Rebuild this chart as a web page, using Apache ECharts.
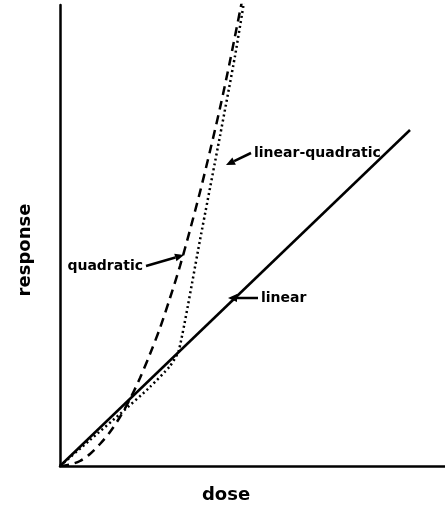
<!DOCTYPE html>
<html>
<head>
<meta charset="utf-8">
<script src="https://cdn.jsdelivr.net/npm/echarts@6/dist/echarts.min.js"></script>
<style>
  html, body { margin: 0; padding: 0; background: #fff; }
  #chart { width: 445px; height: 507px; }
</style>
</head>
<body>
<div id="chart"></div>
<script>
// Dose-response models (arbitrary units)
const linearDose = [0, 350];
const linearResp = [0, 336];

const quadDose = [0, 10, 20, 30, 40, 50, 60, 70, 80, 90, 100, 110, 120, 130, 140, 150, 160, 170, 180, 185];
const quadResp = [0, 1.5, 5, 12, 22, 34, 49, 67, 88, 112, 138, 168, 200, 236, 274, 315, 358, 405, 455, 480];

const lqDose = [0, 30, 60, 90, 110, 119, 140, 160, 175, 185];
const lqResp = [0, 26, 52, 79, 100, 116, 226, 330, 410, 470];

const xLabel = 'dose';
const yLabel = 'response';

// Annotation anchors: [dose, response] of each arrow tip
const notes = [
  { text: 'quadratic', tip: [124, 211], dx: -38, dy: 11, side: 'left' },
  { text: 'linear', tip: [168, 168], dx: 30, dy: 0, side: 'right' },
  { text: 'linear-quadratic', tip: [166, 301], dx: 25, dy: -12, side: 'right' }
];

const zip = (xs, ys) => xs.map((x, i) => [x, ys[i]]);

const chart = echarts.init(document.getElementById('chart'));
const FONT = 'DejaVu Sans';

chart.setOption({
  animation: false,
  backgroundColor: '#fff',
  grid: { left: 60, right: 0, top: 5, bottom: 41 },
  xAxis: {
    type: 'value', min: 0, max: 385,
    axisLine: { show: true, lineStyle: { color: '#000', width: 2.5 } },
    axisTick: { show: false }, axisLabel: { show: false }, splitLine: { show: false }
  },
  yAxis: {
    type: 'value', min: 0, max: 461,
    axisLine: { show: true, lineStyle: { color: '#000', width: 2.5 } },
    axisTick: { show: false }, axisLabel: { show: false }, splitLine: { show: false }
  },
  series: [
    {
      name: 'linear', type: 'line', data: zip(linearDose, linearResp),
      symbol: 'none', lineStyle: { color: '#000', width: 2.5 }, z: 3
    },
    {
      name: 'quadratic', type: 'line', data: zip(quadDose, quadResp), smooth: 0.3,
      symbol: 'none', lineStyle: { color: '#000', width: 2.5, type: [9, 6] }, z: 2
    },
    {
      name: 'linear-quadratic', type: 'line', data: zip(lqDose, lqResp), smooth: 0.2,
      symbol: 'none', lineStyle: { color: '#000', width: 2.5, type: [2, 3] }, z: 2
    }
  ]
});

// Arrow annotations placed relative to data anchors
function arrow(tip, tail) {
  const ang = Math.atan2(tip[1] - tail[1], tip[0] - tail[0]);
  const L = 9, W = 4;
  const bx = tip[0] - L * Math.cos(ang), by = tip[1] - L * Math.sin(ang);
  const nx = -Math.sin(ang) * W, ny = Math.cos(ang) * W;
  return [
    { type: 'line', shape: { x1: tail[0], y1: tail[1], x2: bx, y2: by }, style: { stroke: '#000', lineWidth: 2.5 } },
    { type: 'polygon', shape: { points: [tip, [bx + nx, by + ny], [bx - nx, by - ny]] }, style: { fill: '#000' } }
  ];
}
const elements = [];
notes.forEach(n => {
  const tip = chart.convertToPixel({ gridIndex: 0 }, n.tip);
  const tail = [tip[0] + n.dx, tip[1] + n.dy];
  elements.push(...arrow(tip, tail));
  elements.push({
    type: 'text',
    x: n.side === 'right' ? tail[0] + 3 : tail[0] - 3,
    y: tail[1],
    style: {
      text: n.text, fill: '#000', fontFamily: FONT, fontWeight: 'bold', fontSize: 14,
      align: n.side === 'right' ? 'left' : 'right', verticalAlign: 'middle'
    }
  });
});

// Axis titles
const origin = chart.convertToPixel({ gridIndex: 0 }, [0, 0]);
const doseAt = chart.convertToPixel({ gridIndex: 0 }, [166, 0]);
const respAt = chart.convertToPixel({ gridIndex: 0 }, [0, 216]);
elements.push({
  type: 'text', x: doseAt[0], y: origin[1] + 29,
  style: { text: xLabel, fill: '#000', fontFamily: FONT, fontWeight: 'bold', fontSize: 18, align: 'center', verticalAlign: 'middle' }
});
elements.push({
  type: 'text', x: origin[0] - 35, y: respAt[1], rotation: Math.PI / 2,
  style: { text: yLabel, fill: '#000', fontFamily: FONT, fontWeight: 'bold', fontSize: 18, align: 'center', verticalAlign: 'middle' }
});
chart.setOption({ graphic: elements });
</script>
</body>
</html>
